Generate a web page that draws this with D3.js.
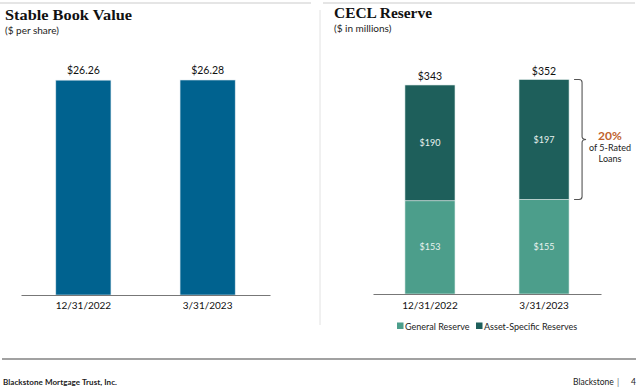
<!DOCTYPE html>
<html><head><meta charset="utf-8">
<script src="https://cdn.jsdelivr.net/npm/d3@7"></script>
<style>body{margin:0;background:#fff}svg{display:block}</style>
</head><body>
<svg id="c" width="640" height="390"></svg>
<script>
const categories = ["12/31/2022", "3/31/2023"];
const bookValues = [26.26, 26.28];
const generalReserve = [153, 155];
const assetSpecific = [190, 197];
const legendLabels = ["General Reserve", "Asset-Specific Reserves"];

const svg = d3.select("#c");
const sans = "Lato, 'Open Sans', sans-serif";
const serif = "'Liberation Serif', 'DejaVu Serif', serif";

// frame lines
svg.append("line").attr("x1",0).attr("x2",311).attr("y1",3).attr("y2",3).attr("stroke","#dcdcdc").attr("stroke-width",1.5);
svg.append("line").attr("x1",323).attr("x2",635).attr("y1",3).attr("y2",3).attr("stroke","#dcdcdc").attr("stroke-width",1.5);
svg.append("line").attr("x1",320).attr("x2",320).attr("y1",10).attr("y2",325).attr("stroke","#e2e2e2").attr("stroke-width",1);
svg.append("line").attr("x1",2).attr("x2",636).attr("y1",359).attr("y2",359).attr("stroke","#444").attr("stroke-width",1.2);

// titles
svg.append("text").attr("x",5).attr("y",20).attr("font-family",serif).attr("font-weight","bold").attr("font-size",15)
  .attr("textLength",127).attr("lengthAdjust","spacingAndGlyphs").attr("fill","#111").text("Stable Book Value");
svg.append("text").attr("x",5).attr("y",33.5).attr("font-family",sans).attr("font-size",10).attr("fill","#222").text("($ per share)");
svg.append("text").attr("x",334).attr("y",18).attr("font-family",serif).attr("font-weight","bold").attr("font-size",15)
  .attr("textLength",98).attr("lengthAdjust","spacingAndGlyphs").attr("fill","#111").text("CECL Reserve");
svg.append("text").attr("x",334).attr("y",31.5).attr("font-family",sans).attr("font-size",10).attr("fill","#222").text("($ in millions)");

// footer
svg.append("text").attr("x",3).attr("y",385).attr("font-family",sans).attr("font-weight","bold").attr("font-size",8)
  .attr("textLength",114).attr("fill","#222").text("Blackstone Mortgage Trust, Inc.");
svg.append("text").attr("x",573).attr("y",385).attr("font-family",sans).attr("font-size",8.5).attr("fill","#222").text("Blackstone");
svg.append("text").attr("x",618).attr("y",385).attr("text-anchor","middle").attr("font-family",sans).attr("font-size",8.5).attr("fill","#666").text("|");
svg.append("text").attr("x",636).attr("y",385).attr("text-anchor","end").attr("font-family",sans).attr("font-size",8.5).attr("fill","#222").text("4");

// Left chart
const xL = d3.scaleBand().domain(categories).range([21,270]).paddingInner(0.556).paddingOuter(0.28);
const yL = d3.scaleLinear().domain([0, 26.28]).range([295, 80]);
const gL = svg.append("g");
gL.selectAll("rect").data(bookValues).join("rect")
  .attr("x",(d,i)=>xL(categories[i])).attr("width",xL.bandwidth())
  .attr("y",d=>yL(d)).attr("height",d=>295-yL(d))
  .attr("fill","#00628f").attr("stroke","#dbe6ee").attr("stroke-width",0.6);
gL.selectAll("text.v").data(bookValues).join("text").attr("class","v")
  .attr("x",(d,i)=>xL(categories[i])+xL.bandwidth()/2).attr("y",d=>yL(d)-6)
  .attr("text-anchor","middle").attr("font-family",sans).attr("font-size",10.5).attr("fill","#111")
  .text(d=>"$"+d.toFixed(2));
const axL = gL.append("g").attr("transform","translate(0,295)").call(d3.axisBottom(xL).tickSize(0).tickPadding(7));
axL.select(".domain").attr("stroke","#777").attr("stroke-width",1.2);
axL.selectAll("text").attr("font-family",sans).attr("font-size",10).attr("fill","#111");

// Right chart
const xR = d3.scaleBand().domain(categories).range([373,601]).paddingInner(0.561).paddingOuter(0.28);
const yR = d3.scaleLinear().domain([0, 352]).range([294, 79.5]);
const stackData = categories.map((c,i)=>({cat:c, gen:generalReserve[i], asset:assetSpecific[i]}));
const series = d3.stack().keys(["gen","asset"])(stackData);
const colors = {gen:"#4c9e8b", asset:"#1e5f5b"};
const gR = svg.append("g");
series.forEach(s=>{
  gR.selectAll("rect."+s.key).data(s).join("rect").attr("class",s.key)
    .attr("x",d=>xR(d.data.cat)).attr("width",xR.bandwidth())
    .attr("y",d=>yR(d[1])).attr("height",d=>yR(d[0])-yR(d[1]))
    .attr("fill",colors[s.key]).attr("stroke","#e6f0ee").attr("stroke-width",0.6);
  gR.selectAll("text."+s.key).data(s).join("text").attr("class",s.key)
    .attr("x",d=>xR(d.data.cat)+xR.bandwidth()/2).attr("y",d=>(yR(d[0])+yR(d[1]))/2+3)
    .attr("text-anchor","middle").attr("font-family",sans).attr("font-size",9).attr("fill","#e8f2ef")
    .text(d=>"$"+(d[1]-d[0]));
});
gR.selectAll("text.tot").data(stackData).join("text").attr("class","tot")
  .attr("x",d=>xR(d.cat)+xR.bandwidth()/2).attr("y",d=>yR(d.gen+d.asset)-4.5)
  .attr("text-anchor","middle").attr("font-family",sans).attr("font-size",10.5).attr("fill","#111")
  .text(d=>"$"+(d.gen+d.asset));
const axR = gR.append("g").attr("transform","translate(0,294)").call(d3.axisBottom(xR).tickSize(0).tickPadding(8));
axR.select(".domain").attr("stroke","#777").attr("stroke-width",1.2);
axR.selectAll("text").attr("font-family",sans).attr("font-size",10).attr("fill","#111");

// brace for second bar's asset-specific segment
const b = stackData[1];
const bTop = yR(b.gen+b.asset), bBot = yR(b.gen), bMid = (bTop+bBot)/2;
const bx = xR(b.cat)+xR.bandwidth();
gR.append("path")
  .attr("d",`M${bx+5},${bTop} H${bx+10} Q${bx+13},${bTop} ${bx+13},${bTop+3} V${bMid-3} Q${bx+13},${bMid} ${bx+17},${bMid} Q${bx+13},${bMid} ${bx+13},${bMid+3} V${bBot-3} Q${bx+13},${bBot} ${bx+10},${bBot} H${bx+5}`)
  .attr("fill","none").attr("stroke","#555").attr("stroke-width",1.1);
gR.append("text").attr("x",610).attr("y",bMid).attr("text-anchor","middle").attr("font-family",sans).attr("font-weight","bold").attr("font-size",12).attr("fill","#c0622d").text("20%");
gR.append("text").attr("x",610).attr("y",bMid+11).attr("text-anchor","middle").attr("font-family",sans).attr("font-size",9).attr("fill","#222").text("of 5-Rated");
gR.append("text").attr("x",610).attr("y",bMid+22).attr("text-anchor","middle").attr("font-family",sans).attr("font-size",9).attr("fill","#222").text("Loans");

// legend
const leg = svg.append("g").attr("transform","translate(397,327)");
const legX = [0, 79];
legendLabels.forEach((l,i)=>{
  leg.append("rect").attr("x",legX[i]).attr("y",-4.5).attr("width",6.5).attr("height",6.5).attr("fill",i===0?colors.gen:colors.asset);
  leg.append("text").attr("x",legX[i]+8).attr("y",2.5).attr("font-family",sans).attr("font-size",9).attr("fill","#222").text(l);
});
</script>
</body></html>
